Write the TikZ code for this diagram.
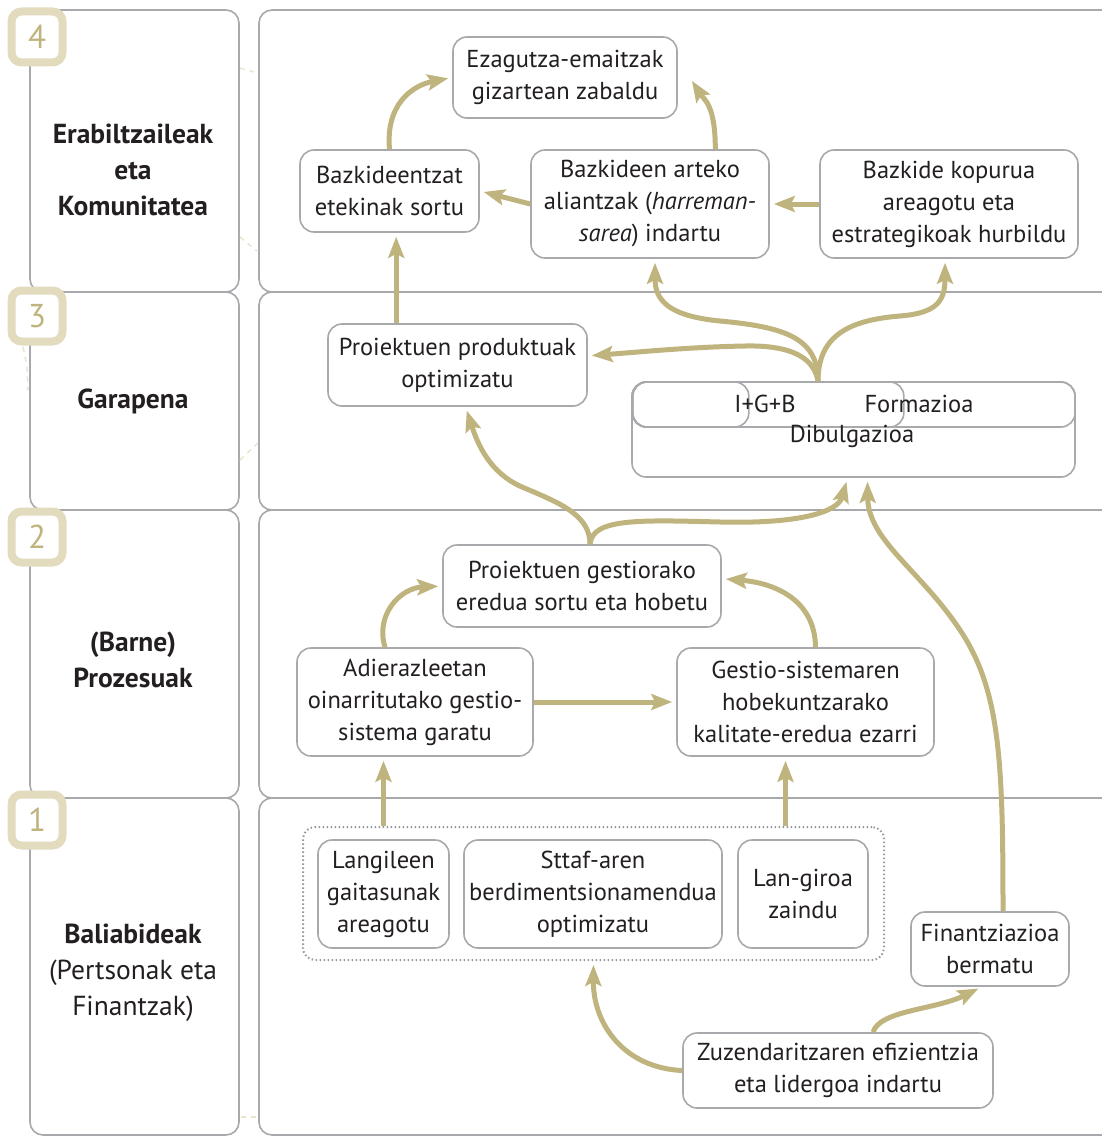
\documentclass[tikz,border=0pt]{standalone}
\usepackage{fontspec}
\setmainfont{PT Sans}
\usepackage{tikz}
\usetikzlibrary{arrows.meta}
\definecolor{frame}{HTML}{A7A9AC}
\definecolor{gold}{HTML}{BFB37E}
\definecolor{badge}{HTML}{E2DBBE}
\definecolor{ink}{HTML}{231F20}
\definecolor{trace}{HTML}{E9E4CF}
\tikzstyle{Box}=[rectangle, rounded corners=14, draw=frame, line width=1.6, fill=white, align=center, inner sep=0, text=ink]
\tikzstyle{Group}=[rectangle, rounded corners=12, draw=frame!90!black, line width=2, dash pattern=on 1.5pt off 2.5pt]
\tikzstyle{Lane}=[draw=frame, line width=1.6, rounded corners=13]
\tikzstyle{Title}=[align=center, text=ink, font=\fontsize{27.5}{36}\selectfont\bfseries]
\tikzstyle{Badge}=[rectangle, rounded corners=10, draw=badge, line width=8, fill=white, minimum size=51, inner sep=0, text=gold, font=\fontsize{33}{33}\selectfont]
\tikzstyle{Flow}=[draw=gold, line width=5, -{Stealth[length=21pt,width=16pt,inset=4pt]}, shorten >=4pt]
\tikzstyle{Trace}=[draw=trace, line width=1.5, dash pattern=on 5pt off 5pt]

\begin{document}
\begin{tikzpicture}[x=1pt, y=-1pt, font=\fontsize{24.5}{32}\selectfont, text=ink]
    \useasboundingbox (0,0) rectangle (1102,1137);

    % lanes
    \draw[Lane] (30,10) rectangle (239,292);
    \draw[Lane] (30,292) rectangle (239,510);
    \draw[Lane] (30,510) rectangle (239,798);
    \draw[Lane] (30,798) rectangle (239,1135);
    \draw[Lane] (1102,10) -| (259,292) -- (1102,292);
    \draw[Lane] (1102,292) -| (259,510) -- (1102,510);
    \draw[Lane] (1102,510) -| (259,798) -- (1102,798);
    \draw[Lane] (1102,798) -| (259,1135) -- (1102,1135);

    \draw[Trace] (240,68) -- (254,72);
    \draw[Trace] (240,237) -- (257,251);
    \draw[Trace] (23,347) .. controls (27,365) .. (28,390);
    \draw[Trace] (240,460) -- (258,443);
    \draw[Trace] (241,1117) -- (257,1117);

    \path (37,37) node[Badge] (b4) {4}
    (37,316) node[Badge] (b3) {3}
    (37,537) node[Badge] (b2) {2}
    (37,820) node[Badge] (b1) {1};

    \path (133,170) node[Title] (users) {Erabiltzaileak\\eta\\Komunitatea}
    (133,401) node[Title] (dev) {Garapena}
    (133,660) node[Title] (proc) {(Barne)\\Prozesuak}
    (133,973) node[Title, font=\fontsize{27.5}{36}\selectfont] (res) {\textbf{Baliabideak}\\(Pertsonak eta\\Finantzak)};

    % 4
    \path (565,77.5) node[Box, minimum width=224, minimum height=81] (ezag) {Ezagutza-emaitzak\\gizartean zabaldu}
    (389.5,191) node[Box, minimum width=179, minimum height=82] (bazk) {Bazkideentzat\\etekinak sortu}
    (650,204) node[Box, minimum width=238, minimum height=108] (alia) {Bazkideen arteko\\aliantzak (\textit{harreman-}\\\textit{sarea}) indartu}
    (949,204) node[Box, minimum width=258, minimum height=108] (kop) {Bazkide kopurua\\areagotu eta\\estrategikoak hurbildu};

    % 3
    \path (457.5,365) node[Box, minimum width=259, minimum height=82] (prod) {Proiektuen produktuak\\optimizatu}
    (853.5,429.5) node[Box, minimum width=443, minimum height=95] (dib) {}
    (853.5,404.5) node[Box, fill=none, minimum width=443, minimum height=45] (dibtop) {}
    (632,404.5) node[Box, fill=none, anchor=west, minimum width=271, minimum height=45] (form) {}
    (632,404.5) node[Box, fill=none, anchor=west, minimum width=116, minimum height=45] (igb) {}
    (765,404) node (igbtxt) {I+G+B}
    (919,404) node (formtxt) {Formazioa}
    (852,436) node (dibtxt) {Dibulgazioa};

    % 2
    \path (582,586) node[Box, minimum width=278, minimum height=82] (gest) {Proiektuen gestiorako\\eredua sortu eta hobetu}
    (415,702) node[Box, minimum width=236, minimum height=108] (adie) {Adierazleetan\\oinarritutako gestio-\\sistema garatu}
    (805.5,702) node[Box, minimum width=257, minimum height=108] (kal) {Gestio-sistemaren\\hobekuntzarako\\kalitate-eredua ezarri};

    % 1
    \path (593.5,893.5) node[Group, minimum width=581, minimum height=133] (grp) {}
    (383.5,894) node[Box, minimum width=131, minimum height=108] (lang) {Langileen\\gaitasunak\\areagotu}
    (593,894) node[Box, minimum width=258, minimum height=108] (sttaf) {Sttaf-aren\\berdimentsionamendua\\optimizatu}
    (803,894) node[Box, minimum width=130, minimum height=108] (lan) {Lan-giroa\\zaindu}
    (990,949) node[Box, minimum width=158, minimum height=74] (fin) {Finantziazioa\\bermatu}
    (838,1070.5) node[Box, minimum width=310, minimum height=75] (zuz) {Zuzendaritzaren efizientzia\\eta lidergoa indartu};

    \draw[Flow] (bazk.north) .. controls +(-4,-45) and +(-40,8) .. (ezag.west);
    \draw[Flow] (alia.40) .. controls +(0,-45) and +(14,22) .. ([xshift=12pt]ezag.east);
    \draw[Flow] (alia.west) -- (bazk.east);
    \draw[Flow] (kop.west) -- (alia.east);
    \draw[Flow] ([xshift=69pt]prod.north west) -- ([xshift=69pt]prod.north west |- bazk.south);

    \draw[Flow] ([xshift=-35.5pt]dib.north) .. controls (818,338) and (785,327) .. (720,321) .. controls (668,316) and (655,300) .. ([xshift=5pt]alia.south);
    \draw[Flow] ([xshift=-35.5pt]dib.north) .. controls (818,335) and (850,320) .. (900,316) .. controls (938,313) and (945,300) .. ([xshift=-4pt]kop.south);
    \draw[Flow] ([xshift=-35.5pt]dib.north) .. controls (814,358) and (792,345) .. (745,346) .. controls (690,347) and (640,352) .. (prod.4);

    \draw[Flow] ([xshift=8pt]gest.north) .. controls (590,515) and (560,503) .. (522,487) .. controls (490,473) and (478,445) .. ([xshift=8pt]prod.south);
    \draw[Flow] ([xshift=8pt]gest.north) .. controls (592,518) and (640,520) .. (720,522) .. controls (800,524) and (838,512) .. ([xshift=-6pt]dib.south);
    \draw[Flow] ([xshift=13pt]fin.north) .. controls (1003,760) and (1000,690) .. (960,630) .. controls (920,570) and (868,540) .. ([xshift=14pt]dib.south);

    \draw[Flow] ([xshift=-30pt]adie.north) .. controls (375,615) and (400,588) .. (gest.west);
    \draw[Flow] ([xshift=10pt]kal.north) .. controls (815,600) and (775,583) .. (gest.3);
    \draw[Flow] (adie.east) -- (kal.west);
    \draw[Flow] (lang.north |- grp.north) -- (lang.north |- adie.south);
    \draw[Flow] ([xshift=-20pt]kal.south |- grp.north) -- ([xshift=-20pt]kal.south);

    \draw[Flow] (zuz.west) .. controls (625,1068) and (593,1025) .. (grp.south);
    \draw[Flow] ([xshift=35pt]zuz.north) .. controls (880,1010) and (935,1010) .. ([xshift=-8pt]fin.south);
\end{tikzpicture}
\end{document}
